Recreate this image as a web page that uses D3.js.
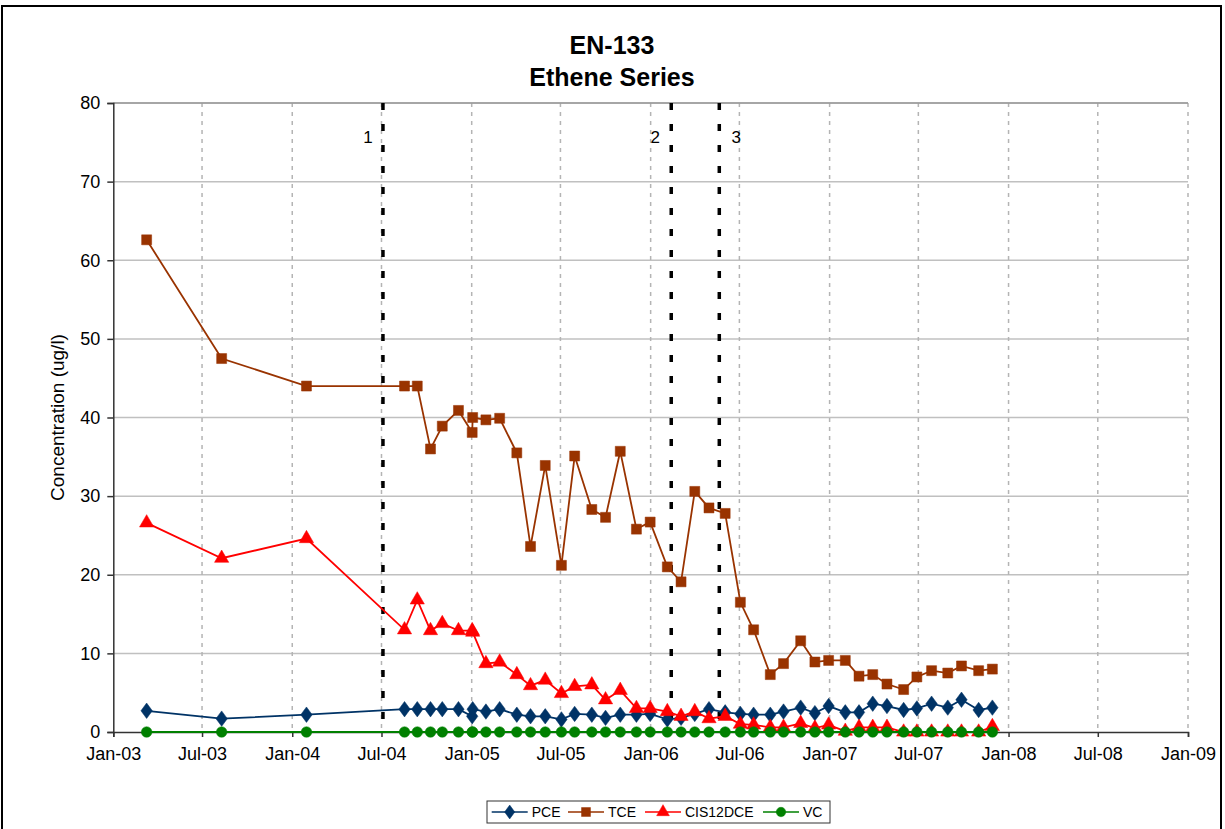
<!DOCTYPE html>
<html><head><meta charset="utf-8">
<script src="https://cdn.jsdelivr.net/npm/d3@7"></script>
<style>
body{margin:0;background:#fff;}
svg{display:block;font-family:"Liberation Sans",Arial,sans-serif;}
</style></head>
<body>
<svg id="chart" width="1225" height="829"></svg>
<script>
const sampleDates = ["2003-03-10","2003-08-10","2004-01-30","2004-08-17","2004-09-12","2004-10-09","2004-11-02","2004-12-05","2005-01-02","2005-01-03","2005-01-30","2005-02-27","2005-04-03","2005-05-01","2005-05-31","2005-07-03","2005-07-30","2005-09-03","2005-10-01","2005-10-31","2005-12-03","2005-12-31","2006-02-04","2006-03-04","2006-04-01","2006-04-30","2006-06-02","2006-07-03","2006-07-30","2006-09-02","2006-09-29","2006-11-03","2006-12-02","2006-12-30","2007-02-02","2007-03-02","2007-03-30","2007-04-28","2007-06-01","2007-06-28","2007-07-28","2007-08-30","2007-09-27","2007-11-01","2007-11-29"];
const pce = [2.7,1.7,2.2,2.9,2.9,2.9,2.9,2.9,2.0,2.9,2.6,2.9,2.2,2.0,2.0,1.6,2.3,2.2,1.8,2.2,2.2,2.3,1.6,1.8,2.3,2.9,2.5,2.3,2.2,2.2,2.6,3.1,2.4,3.3,2.5,2.5,3.6,3.3,2.8,3.0,3.6,3.1,4.1,2.8,3.1];
const tce = [62.6,47.5,44.0,44.0,44.0,36.0,38.9,40.9,38.1,40.0,39.7,39.9,35.5,23.6,33.9,21.2,35.1,28.3,27.3,35.7,25.8,26.7,21.0,19.1,30.6,28.5,27.8,16.5,13.0,7.3,8.7,11.6,8.9,9.1,9.1,7.1,7.3,6.1,5.4,7.0,7.8,7.5,8.4,7.8,8.0];
const cis12dce = [26.6,22.1,24.6,13.0,16.8,12.9,13.8,12.9,12.9,12.7,8.7,8.9,7.3,5.9,6.6,4.9,5.8,6.0,4.1,5.3,3.0,3.0,2.6,2.0,2.6,1.7,2.0,1.0,0.9,0.6,0.6,1.1,0.5,0.9,0.1,0.6,0.6,0.6,0,0,0,0,0,0,0.7];
const vc = [0,0,0,0,0,0,0,0,0,0,0,0,0,0,0,0,0,0,0,0,0,0,0,0,0,0,0,0,0,0,0,0,0,0,0,0,0,0,0,0,0,0,0,0,0];
const seriesNames = ["PCE","TCE","CIS12DCE","VC"];
const yTicks = [0,10,20,30,40,50,60,70,80];
const eventDates = ["2004-07-04","2006-02-12","2006-05-21"];
const eventLabels = ["1","2","3"];
const titleLines = ["EN-133","Ethene Series"];
const yAxisTitle = "Concentration (ug/l)";

const parse = d3.utcParse("%Y-%m-%d");
const dates = sampleDates.map(parse);
const series = [
  {name:seriesNames[0], values:pce, color:"#003366", symbol:d3.symbolDiamond, size:85},
  {name:seriesNames[1], values:tce, color:"#993300", symbol:d3.symbolSquare, size:100},
  {name:seriesNames[2], values:cis12dce, color:"#FF0000", symbol:d3.symbolTriangle, size:88},
  {name:seriesNames[3], values:vc, color:"#008000", symbol:d3.symbolCircle, size:88}
];

const svg = d3.select("#chart");
const L=113.3, R=1188, T=103, B=732;
const x = d3.scaleUtc().domain([parse("2003-01-01"), parse("2009-01-01")]).range([L,R]);
const y = d3.scaleLinear().domain([0,80]).range([B,T]);

// outer border
svg.append("rect").attr("x",2).attr("y",6).attr("width",1219).attr("height",840)
  .attr("fill","none").attr("stroke","#000").attr("stroke-width",2);

// title
svg.append("text").attr("x",612).attr("y",54).attr("text-anchor","middle")
  .attr("font-size",25).attr("font-weight","bold").text(titleLines[0]);
svg.append("text").attr("x",612).attr("y",86).attr("text-anchor","middle")
  .attr("font-size",25).attr("font-weight","bold").text(titleLines[1]);

const xTickVals = d3.utcMonth.every(6).range(parse("2003-01-01"), parse("2009-01-02"));

// horizontal grid
svg.append("g").selectAll("line").data(yTicks.filter(v=>v>0)).join("line")
  .attr("x1",L).attr("x2",R).attr("y1",d=>y(d)).attr("y2",d=>y(d))
  .attr("stroke","#c0c0c0").attr("stroke-width",1.5);
// vertical grid dashed
svg.append("g").selectAll("line").data(xTickVals.slice(1)).join("line")
  .attr("x1",d=>x(d)).attr("x2",d=>x(d)).attr("y1",T).attr("y2",B)
  .attr("stroke","#b4b4b4").attr("stroke-width",1.5).attr("stroke-dasharray","4,5");
// plot border top
svg.append("line").attr("x1",L).attr("x2",R).attr("y1",T).attr("y2",T).attr("stroke","#999").attr("stroke-width",1.5);

// event lines
svg.append("g").selectAll("line").data(eventDates).join("line")
  .attr("x1",d=>x(parse(d))).attr("x2",d=>x(parse(d))).attr("y1",T).attr("y2",B)
  .attr("stroke","#000").attr("stroke-width",3.5).attr("stroke-dasharray","7,14");
const labelOffsets = [-15,-16,17];
svg.append("g").selectAll("text").data(eventLabels).join("text")
  .attr("x",(d,i)=>x(parse(eventDates[i]))+labelOffsets[i]).attr("y",143)
  .attr("text-anchor","middle").attr("font-size",17).text(d=>d);

// axes
const yAxis = d3.axisLeft(y).tickValues(yTicks).tickSize(6).tickPadding(7);
const gy = svg.append("g").attr("transform",`translate(${L},0)`).call(yAxis);
gy.select(".domain").attr("stroke","#333").attr("stroke-width",1.5);
gy.selectAll(".tick line").attr("stroke","#333").attr("stroke-width",1.5);
gy.selectAll("text").attr("font-size",18).attr("font-family","Liberation Sans, Arial, sans-serif").attr("fill","#000");

const xAxis = d3.axisBottom(x).tickValues(xTickVals).tickFormat(d3.utcFormat("%b-%y")).tickSize(5).tickPadding(10);
const gx = svg.append("g").attr("transform",`translate(0,${B})`).call(xAxis);
gx.select(".domain").attr("stroke","#333").attr("stroke-width",1.5);
gx.selectAll(".tick line").attr("stroke","#333").attr("stroke-width",1.5);
gx.selectAll("text").attr("font-size",18).attr("font-family","Liberation Sans, Arial, sans-serif").attr("fill","#000");

// y title
svg.append("text").attr("transform",`translate(64,${(T+B)/2}) rotate(-90)`)
  .attr("text-anchor","middle").attr("font-size",19).text(yAxisTitle);

// series
const line = d3.line().x(d=>x(d[0])).y(d=>y(d[1]));
series.forEach(s=>{
  const pts = dates.map((d,i)=>[d,s.values[i]]);
  const g = svg.append("g");
  g.append("path").datum(pts).attr("d",line).attr("fill","none")
    .attr("stroke",s.color).attr("stroke-width",1.8);
  const sym = d3.symbol().type(s.symbol).size(s.size);
  g.selectAll("path.m").data(pts).join("path").attr("class","m")
    .attr("d",sym)
    .attr("transform",d=>`translate(${x(d[0])},${y(d[1])})${s.symbol===d3.symbolDiamond?" scale(1.15,0.9)":""}`)
    .attr("fill",s.color).attr("stroke",s.color).attr("stroke-width",0.5);
});

// legend
const lg = svg.append("g");
lg.append("rect").attr("x",487).attr("y",801).attr("width",343).attr("height",22)
  .attr("fill","#fff").attr("stroke","#333").attr("stroke-width",1);
const legendX = [491.7,568,645,763];
series.forEach((s,i)=>{
  const x0 = legendX[i];
  lg.append("line").attr("x1",x0).attr("x2",x0+36).attr("y1",812).attr("y2",812)
    .attr("stroke",s.color).attr("stroke-width",1.5);
  lg.append("path").attr("d",d3.symbol().type(s.symbol).size(s.size*0.8)())
    .attr("transform",`translate(${x0+18},812)${s.symbol===d3.symbolDiamond?" scale(1.15,0.9)":""}`)
    .attr("fill",s.color).attr("stroke",s.color).attr("stroke-width",0.5);
  lg.append("text").attr("x",x0+40).attr("y",817).attr("font-size",14).text(s.name);
});
</script>
</body></html>
